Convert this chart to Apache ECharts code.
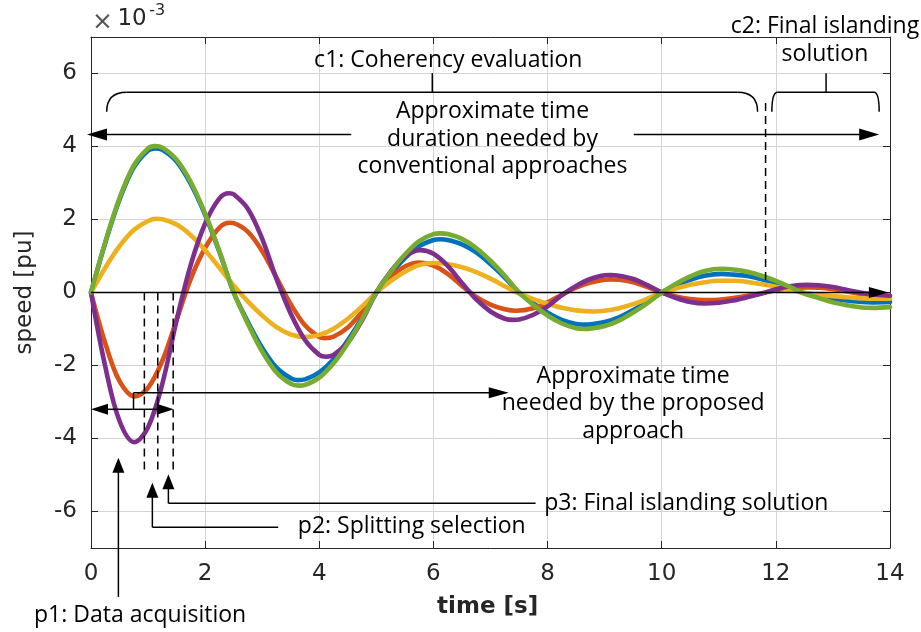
<!DOCTYPE html>
<html>
<head>
<meta charset="utf-8">
<script src="https://cdn.jsdelivr.net/npm/echarts@6/dist/echarts.min.js"></script>
<style>html,body{margin:0;padding:0;background:#fff}#c{width:921px;height:632px}</style>
</head>
<body>
<div id="c"></div>
<script>
// ---- data (speed deviation, x10^-3 pu) ----
const time = [0,0.25,0.5,0.75,1,1.25,1.5,1.75,2,2.25,2.5,2.75,3,3.25,3.5,3.75,4,4.25,4.5,4.75,5,5.25,5.5,5.75,6,6.25,6.5,6.75,7,7.25,7.5,7.75,8,8.25,8.5,8.75,9,9.25,9.5,9.75,10,10.25,10.5,10.75,11,11.25,11.5,11.75,12,12.25,12.5,12.75,13,13.25,13.5,13.75,14];
const blue = [0,1.36,2.55,3.43,3.89,3.91,3.59,2.97,2.13,1.11,0,-0.81,-1.52,-2.06,-2.35,-2.38,-2.19,-1.83,-1.31,-0.69,0,0.50,0.94,1.27,1.44,1.44,1.32,1.10,0.78,0.41,0,-0.30,-0.55,-0.75,-0.86,-0.87,-0.81,-0.68,-0.48,-0.26,0,0.19,0.35,0.46,0.51,0.49,0.45,0.36,0.25,0.12,-0.02,-0.10,-0.17,-0.22,-0.26,-0.27,-0.26];
const orange = [0,-1.39,-2.43,-2.85,-2.61,-1.87,-0.75,0.38,1.22,1.78,1.90,1.66,1.13,0.41,-0.32,-0.90,-1.22,-1.21,-0.96,-0.53,0,0.41,0.71,0.82,0.74,0.51,0.18,-0.12,-0.33,-0.46,-0.50,-0.43,-0.27,-0.06,0.13,0.27,0.35,0.35,0.28,0.15,0,-0.11,-0.18,-0.21,-0.20,-0.15,-0.09,-0.02,0.06,0.11,0.14,0.13,0.09,0.03,-0.04,-0.07,-0.09];
const yellow = [0,0.68,1.27,1.71,1.96,2.01,1.86,1.57,1.16,0.68,0.19,-0.25,-0.63,-0.95,-1.15,-1.22,-1.16,-0.99,-0.72,-0.38,0,0.31,0.57,0.75,0.81,0.78,0.69,0.56,0.38,0.17,-0.03,-0.18,-0.31,-0.42,-0.49,-0.52,-0.50,-0.43,-0.32,-0.17,0,0.11,0.21,0.28,0.32,0.32,0.29,0.23,0.16,0.07,-0.01,-0.06,-0.10,-0.13,-0.16,-0.17,-0.17];
const purple = [0,-2.03,-3.52,-4.10,-3.69,-2.50,-0.76,0.77,1.89,2.58,2.69,2.29,1.47,0.37,-0.58,-1.30,-1.71,-1.71,-1.37,-0.76,0,0.57,0.99,1.16,1.06,0.73,0.26,-0.19,-0.52,-0.72,-0.74,-0.61,-0.38,-0.07,0.18,0.37,0.47,0.46,0.37,0.20,0,-0.15,-0.26,-0.30,-0.28,-0.22,-0.13,-0.03,0.09,0.17,0.21,0.20,0.15,0.07,-0.01,-0.06,-0.09];
const green = [0,1.38,2.59,3.48,3.95,3.97,3.64,3.02,2.16,1.13,0,-0.86,-1.62,-2.19,-2.50,-2.53,-2.33,-1.94,-1.39,-0.73,0,0.56,1.04,1.41,1.60,1.60,1.47,1.22,0.87,0.46,0,-0.34,-0.63,-0.85,-0.98,-0.99,-0.92,-0.77,-0.55,-0.29,0,0.24,0.44,0.59,0.65,0.63,0.57,0.46,0.32,0.15,-0.03,-0.15,-0.27,-0.35,-0.41,-0.42,-0.40];
// read-off turning points [time, value] of each trace
const blueExt   = [[1.12,3.95],[3.62,-2.40],[6.12,1.46],[8.7,-0.88],[11.05,0.51],[13.7,-0.27]];
const orangeExt = [[0.77,-2.85],[2.44,1.91],[4.1,-1.25],[5.75,0.82],[7.45,-0.50],[9.1,0.36],[10.75,-0.21],[12.55,0.14]];
const yellowExt = [[1.15,2.02],[3.75,-1.22],[6.0,0.81],[8.8,-0.52],[11.1,0.32],[13.8,-0.17]];
const purpleExt = [[0.76,-4.10],[2.42,2.72],[4.12,-1.76],[5.77,1.16],[7.4,-0.75],[9.1,0.48],[10.75,-0.30],[12.55,0.21]];
const greenExt  = [[1.12,4.01],[3.64,-2.55],[6.12,1.62],[8.65,-1.00],[11.05,0.65],[13.7,-0.42]];
const xTickValues = [0,2,4,6,8,10,12,14];
const yTickValues = [-6,-4,-2,0,2,4,6];

// ---- styling ----
const AX = '#262626';
const GRIDC = '#d4d4d4';
const FONT_AX = 'DejaVu Sans';
const FONT_ANN = 'Open Sans';
const COLORS = {blue:'#0072BD', orange:'#D95319', yellow:'#EDB120', purple:'#7E2F8E', green:'#77AC30'};

const chart = echarts.init(document.getElementById('c'), null, {renderer:'canvas'});

function merge(vals, ext){
  const pts = time.map((t,i)=>[t,vals[i]]).filter(p=>!ext.some(e=>Math.abs(e[0]-p[0])<0.06));
  return pts.concat(ext.map(e=>[e[0],e[1]])).sort((a,b)=>a[0]-b[0]);
}
function mkSeries(name, vals, ext, color){
  return {name, type:'line', data: merge(vals, ext), symbol:'none', showSymbol:false,
    smooth:0.35, lineStyle:{color, width:4.6, cap:'round', join:'round'}, itemStyle:{color}, silent:true, z:2};
}
const axBase = {
  axisLine:{show:true,onZero:false,lineStyle:{color:AX,width:1}},
  axisTick:{show:true,inside:true,length:7,lineStyle:{color:AX,width:1}}
};

chart.setOption({
  animation:false,
  backgroundColor:'#fff',
  grid:{left:91,right:31,top:37,bottom:84,containLabel:false},
  xAxis:[
    Object.assign({type:'value',min:xTickValues[0],max:xTickValues[xTickValues.length-1],interval:2,
      axisLabel:{color:AX,fontFamily:FONT_AX,fontSize:23,margin:15},
      splitLine:{show:true,lineStyle:{color:GRIDC,width:1}}}, axBase),
    Object.assign({type:'value',position:'top',min:0,max:14,interval:2,axisLabel:{show:false},splitLine:{show:false}}, axBase)
  ],
  yAxis:[
    Object.assign({type:'value',min:-7,max:7,splitNumber:7,
      axisLabel:{color:AX,fontFamily:FONT_AX,fontSize:23,margin:14,showMinLabel:false,showMaxLabel:false},
      splitLine:{show:true,lineStyle:{color:GRIDC,width:1}}}, axBase),
    Object.assign({type:'value',position:'right',min:-7,max:7,splitNumber:7,axisLabel:{show:false},splitLine:{show:false}}, axBase)
  ],
  series:[
    mkSeries('bus 1', blue, blueExt, COLORS.blue),
    mkSeries('bus 2', orange, orangeExt, COLORS.orange),
    mkSeries('bus 3', yellow, yellowExt, COLORS.yellow),
    mkSeries('bus 4', purple, purpleExt, COLORS.purple),
    mkSeries('bus 5', green, greenExt, COLORS.green)
  ]
});

// ---- annotations (positions in data units: [time s, speed x1e-3]) ----
const P = (t,v) => chart.convertToPixel({xAxisIndex:0,yAxisIndex:0},[t,v]);
const Z = 100;
const els = [];
function line(a,b,dash,w){
  els.push({type:'line',silent:true,z:Z,shape:{x1:a[0],y1:a[1],x2:b[0],y2:b[1]},
    style:{stroke:'#000',lineWidth:w||1.5,lineDash:dash?[8,5]:null}});
}
function head(tip,dx,dy,len,half){
  const bx=tip[0]-dx*len, by=tip[1]-dy*len;
  const px=-dy, py=dx;
  els.push({type:'polygon',silent:true,z:Z,shape:{points:[[tip[0],tip[1]],[bx+px*half,by+py*half],[bx-px*half,by-py*half]]},
    style:{fill:'#000',stroke:null}});
}
function arrow(from,to,len,half){
  const dx=to[0]-from[0], dy=to[1]-from[1], L=Math.hypot(dx,dy);
  const ux=dx/L, uy=dy/L;
  line(from,[to[0]-ux*(len-2),to[1]-uy*(len-2)]);
  head(to,ux,uy,len,half);
}
function quad(a,c,b){
  els.push({type:'bezierCurve',silent:true,z:Z,shape:{x1:a[0],y1:a[1],x2:b[0],y2:b[1],cpx1:c[0],cpy1:c[1]},
    style:{stroke:'#000',lineWidth:1.5,fill:null}});
}
function text(p,str,opt){
  opt=opt||{};
  els.push({type:'text',silent:true,z:Z,x:p[0],y:p[1],rotation:opt.rot||0,
    style:{text:str,fill:opt.fill||'#000',fontSize:opt.size||23,fontFamily:opt.family||FONT_ANN,
      fontWeight:opt.weight||'normal',align:opt.align||'center',verticalAlign:'middle'}});
}

// zero reference line with arrow
arrow(P(0,0),P(13.98,0),20,5.5);

// axis titles and exponent
text(P(-1.16,0),'speed [pu]',{rot:Math.PI/2,family:FONT_AX,fill:AX});
text(P(6.95,-8.62),'time [s]',{family:FONT_AX,weight:'bold',fill:AX});
text(P(0.2,7.40),'\u00d7',{family:FONT_AX,fill:'#555',size:25});
text(P(0.72,7.48),'10',{family:FONT_AX,fill:AX});
text(P(1.16,7.73),'-3',{family:FONT_AX,fill:AX,size:16});

// c1 brace + label
const yB = 5.485, yBb = 4.95, yTick = 6.01;
quad(P(0.275,yBb),P(0.275,yB),P(0.626,yB));
line(P(0.626,yB),P(11.33,yB));
quad(P(11.33,yB),P(11.68,yB),P(11.68,yBb));
line(P(5.98,yB),P(5.98,yTick));
text(P(6.26,6.37),'c1: Coherency evaluation');

// c2 brace + label
quad(P(11.93,yBb),P(11.93,yB),P(12.03,yB));
line(P(12.03,yB),P(13.72,yB));
quad(P(13.72,yB),P(13.81,yB),P(13.81,yBb));
line(P(12.88,yB),P(12.88,yTick));
text(P(12.86,7.30),'c2: Final islanding');
text(P(12.86,6.51),'solution');
line(P(11.82,5.19),P(11.82,0.2),true);

// conventional approach duration
arrow(P(4.56,4.33),P(-0.07,4.33),20,6);
arrow(P(9.51,4.33),P(13.81,4.33),20,6);
text(P(7.035,4.97),'Approximate time');
text(P(7.035,4.205),'duration needed by');
text(P(7.035,3.44),'conventional approaches');

// proposed approach duration
line(P(0.745,-3.2),P(0.745,-2.745));
arrow(P(0.745,-2.745),P(7.32,-2.745),20,5.5);
arrow(P(0.72,-3.2),P(0.0,-3.2),17,5.5);
arrow(P(0.72,-3.2),P(1.45,-3.2),17,5.5);
text(P(9.5,-2.29),'Approximate time');
text(P(9.5,-3.05),'needed by the proposed');
text(P(9.5,-3.82),'approach');

// stage markers p1..p3
[0.935,1.17,1.44].forEach(t=>line(P(t,0),P(t,-4.95),true));
arrow(P(0.48,-8.34),P(0.48,-4.53),15,6);
text(P(0.86,-8.84),'p1: Data acquisition');
line(P(3.28,-6.43),P(1.075,-6.43));
arrow(P(1.075,-6.43),P(1.075,-5.21),15,6);
text(P(5.62,-6.42),'p2: Splitting selection');
line(P(7.79,-5.775),P(1.356,-5.775));
arrow(P(1.356,-5.775),P(1.356,-4.98),15,6);
text(P(10.43,-5.77),'p3: Final islanding solution');

chart.setOption({graphic:{elements:els}});
</script>
</body>
</html>
